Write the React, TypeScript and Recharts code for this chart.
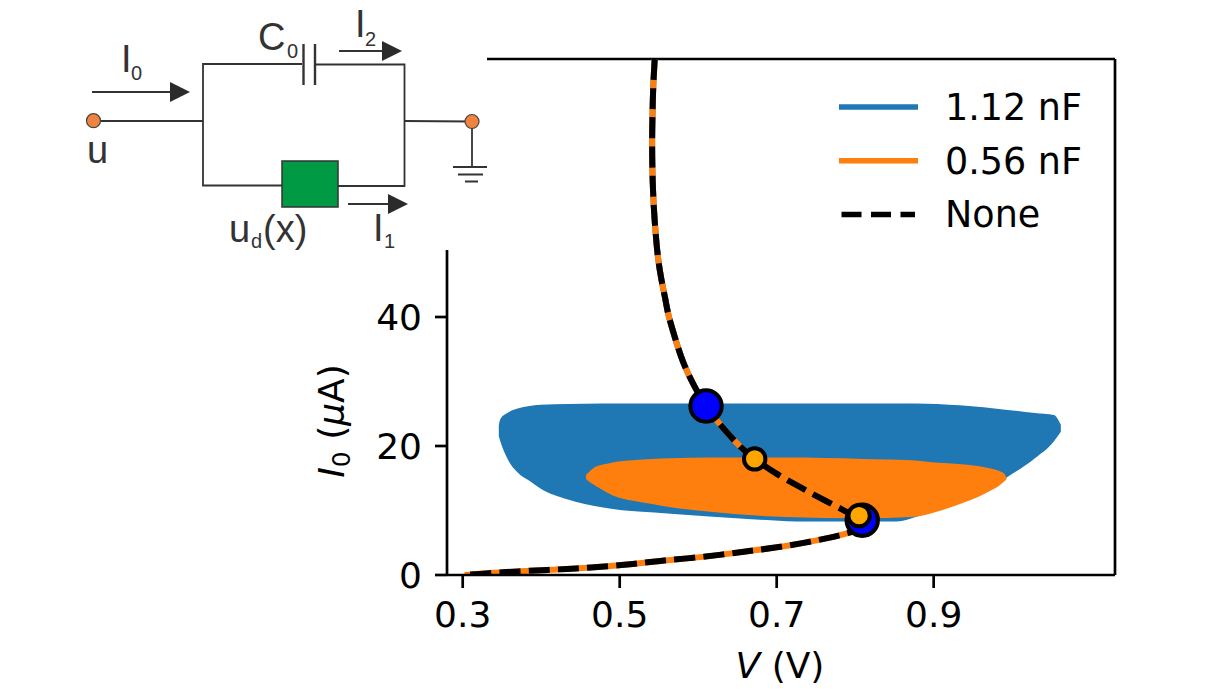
import {
  Area,
  ComposedChart,
  Legend,
  Line,
  ReferenceLine,
  Scatter,
  XAxis,
  YAxis,
} from "recharts"

const FONT = "DejaVu Sans"
const BLUE = "#1f77b4"
const ORANGE = "#ff7f0e"

// filled regions: x, lower edge, upper edge
const blueV = [0.346, 0.348, 0.358, 0.37, 0.385, 0.399, 0.434, 0.477, 0.565, 0.663, 0.725, 0.853, 0.877, 0.933, 0.994, 1.029, 1.053, 1.062]
const blueLow = [21.5, 20.7, 17.8, 15.9, 14.6, 13.4, 11.7, 10.5, 9.5, 8.7, 8.3, 8.3, 9.0, 11.3, 15.2, 18.1, 20.7, 22.2]
const blueHigh = [23.2, 24.2, 25.2, 25.8, 26.2, 26.4, 26.5, 26.6, 26.6, 26.6, 26.6, 26.6, 26.6, 26.3, 25.6, 25.1, 24.8, 23.3]

const orangeV = [0.457, 0.463, 0.468, 0.482, 0.492, 0.517, 0.541, 0.565, 0.615, 0.711, 0.81, 0.872, 0.906, 0.931, 0.965, 0.989, 0.993]
const orangeLow = [14.9, 14.3, 13.9, 12.9, 12.3, 11.5, 11.0, 10.5, 9.8, 9.0, 8.8, 9.0, 9.9, 10.9, 12.6, 14.4, 14.9]
const orangeHigh = [15.5, 16.2, 16.7, 17.2, 17.5, 17.8, 18.0, 18.1, 18.2, 18.2, 18.0, 17.8, 17.4, 17.2, 16.7, 15.8, 15.0]

// load line, walked from the top of the plot round the knee to the origin
const curveV = [0.5446, 0.5427, 0.542, 0.5413, 0.5413, 0.542, 0.5433, 0.5456, 0.5484, 0.5529, 0.5586, 0.5611, 0.5701, 0.5803, 0.5955, 0.6096, 0.6274, 0.6567, 0.672, 0.6975, 0.7242, 0.751, 0.7848, 0.8083, 0.8134, 0.8057, 0.7917, 0.765, 0.7357, 0.6975, 0.663, 0.6274, 0.5892, 0.551, 0.5166, 0.4809, 0.444, 0.4083, 0.37, 0.332, 0.3025]
const curveI = [80, 76, 72.6, 68.7, 64.8, 60.9, 57.1, 53.2, 49.3, 45.8, 42.6, 40.6, 36.9, 32.9, 29.1, 26.2, 23.3, 19.4, 18.0, 15.8, 14.0, 12.2, 10.1, 8.5, 7.9, 7.1, 6.5, 5.7, 5.0, 4.2, 3.7, 3.1, 2.6, 2.2, 1.7, 1.3, 1.0, 0.8, 0.55, 0.3, 0]

// which stretch of the curve each capacitance follows as a stable branch
const blueBranchEnd = 16
const orangeBranchEnd = 19
const orangeBranchRestart = 23

const blueDotsV = [0.61, 0.809]
const blueDotsI = [26.2, 8.5]
const goldDotsV = [0.672, 0.805]
const goldDotsI = [18.0, 9.2]

const xTicks = [0.3, 0.5, 0.7, 0.9]
const yTicks = [0, 20, 40]
const legendNames = ["1.12 nF", "0.56 nF", "None"]

const blueArea = blueV.map((v, i) => ({ v, range: [blueLow[i], blueHigh[i]] }))
const orangeArea = orangeV.map((v, i) => ({ v, range: [orangeLow[i], orangeHigh[i]] }))
const curve = curveV.map((v, i) => ({ v, i0: curveI[i] }))
const blueDots = blueDotsV.map((v, i) => ({ v, i0: blueDotsI[i] }))
const goldDots = goldDotsV.map((v, i) => ({ v, i0: goldDotsI[i] }))

function dot(r: number, fill: string) {
  return (p: any) => <circle cx={p.cx} cy={p.cy} r={r} fill={fill} stroke="#000" strokeWidth={4} />
}

function LegendBox() {
  const colors = [BLUE, ORANGE, "#000"]
  return (
    <svg width={270} height={160} style={{ display: "block" }}>
      {legendNames.map((name, i) => (
        <g key={name} transform={`translate(0, ${i * 53.7})`}>
          <line
            x1={i === 2 ? 11.5 : 9}
            x2={i === 2 ? 85 : 88}
            y1={22}
            y2={22}
            stroke={colors[i]}
            strokeWidth={5.5}
            strokeDasharray={i === 2 ? "20 9.5" : undefined}
          />
          <text x={115} y={35} fontFamily={FONT} fontSize={36.5} fill="#000">
            {name}
          </text>
        </g>
      ))}
    </svg>
  )
}

function Arrow({ x1, x2, y }: { x1: number; x2: number; y: number }) {
  return (
    <g>
      <line x1={x1} x2={x2 - 18} y1={y} y2={y} stroke="#333" strokeWidth={1.8} />
      <polygon points={`${x2 - 20},${y - 10} ${x2},${y} ${x2 - 20},${y + 10}`} fill="#2b2b2b" />
    </g>
  )
}

function Label({ x, y, main, sub, sx, sy }: any) {
  return (
    <g fontFamily="Liberation Sans" fill="#333">
      <text x={x} y={y} fontSize={38}>{main}</text>
      {sub && <text x={sx} y={sy} fontSize={20}>{sub}</text>}
    </g>
  )
}

function Circuit() {
  const wire = { stroke: "#333", strokeWidth: 1.8, fill: "none" }
  return (
    <svg width={1225} height={689} style={{ position: "absolute", left: 0, top: 0, pointerEvents: "none" }}>
      <rect x={40} y={0} width={447} height={250} fill="#fff" />
      <polyline points="302,64 203,64 203,185.5 282,185.5" {...wire} />
      <polyline points="316,64.5 404.5,64.5 404.5,186 338,186" {...wire} />
      <line x1={94} x2={203} y1={121} y2={121} {...wire} />
      <line x1={404.5} x2={472} y1={121} y2={121.5} {...wire} />
      <line x1={303.5} x2={303.5} y1={44} y2={85} stroke="#333" strokeWidth={2.4} />
      <line x1={315} x2={315} y1={44} y2={85} stroke="#333" strokeWidth={2.4} />
      <rect x={282} y={161} width={56} height={46} fill="#009a44" stroke="#333" strokeWidth={1.5} />
      <line x1={472} x2={472} y1={122} y2={167} {...wire} />
      <line x1={453} x2={487} y1={167} y2={167} stroke="#333" strokeWidth={2} />
      <line x1={458} x2={483} y1={174.5} y2={174.5} stroke="#333" strokeWidth={2} />
      <line x1={465} x2={478} y1={181.5} y2={181.5} stroke="#333" strokeWidth={2} />
      <circle cx={93.5} cy={120.7} r={7} fill="#f0833f" stroke="#444" strokeWidth={1.2} />
      <circle cx={472} cy={121.5} r={7} fill="#f0833f" stroke="#444" strokeWidth={1.2} />
      <Arrow x1={92} x2={190} y={92} />
      <Arrow x1={339} x2={402} y={51} />
      <Arrow x1={348} x2={408} y={204} />
      <Label x={121} y={72} main="I" sub="0" sx={131} sy={80} />
      <Label x={258} y={50} main="C" sub="0" sx={287} sy={58} />
      <Label x={355} y={37} main="I" sub="2" sx={365} sy={46} />
      <Label x={373} y={241} main="I" sub="1" sx={384} sy={248} />
      <Label x={87} y={163} main="u" />
      <Label x={229} y={242} main="u" sub="d" sx={251} sy={248} />
      <Label x={263} y={242} main="(x)" />
    </svg>
  )
}

function XLabel() {
  return (
    <text x={780} y={678} textAnchor="middle" fontFamily={FONT} fontSize={36} fill="#000">
      <tspan fontStyle="italic">V</tspan> (V)
    </text>
  )
}

function YLabel() {
  return (
    <text transform="translate(344, 421) rotate(-90)" textAnchor="middle" fontFamily={FONT} fontSize={36} fill="#000">
      <tspan fontStyle="italic">I</tspan>
      <tspan fontSize={25} dy={6}>0</tspan>
      <tspan dy={-6}> (</tspan>
      <tspan fontStyle="italic">μ</tspan>A)
    </text>
  )
}

export default function App() {
  const axisLine = { stroke: "#000", strokeWidth: 2.7 }
  const tick = { fill: "#000", fontSize: 36, fontFamily: FONT }
  return (
    <div style={{ position: "absolute", left: 0, top: 0, width: 1225, height: 689, background: "#fff" }}>
      <ComposedChart width={1225} height={689} margin={{ top: 59, right: 110, bottom: 54, left: 387 }}>
        <XAxis
          type="number"
          dataKey="v"
          domain={[0.28, 1.131]}
          allowDataOverflow
          ticks={xTicks}
          tickFormatter={(t: number) => t.toFixed(1)}
          interval={0}
          height={60}
          axisLine={axisLine}
          tickLine={axisLine}
          tickSize={13}
          tickMargin={13}
          tick={tick}
          label={<XLabel />}
        />
        <YAxis
          type="number"
          domain={[0, 80]}
          allowDataOverflow
          ticks={yTicks}
          interval={0}
          width={60}
          axisLine={axisLine}
          tickLine={axisLine}
          tickSize={12}
          tickMargin={13}
          tick={tick}
          label={<YLabel />}
        />
        <ReferenceLine y={80} stroke="#000" strokeWidth={2.7} />
        <ReferenceLine x={1.131} stroke="#000" strokeWidth={2.7} />
        <Area data={blueArea} dataKey="range" type="monotoneX" fill={BLUE} fillOpacity={1} stroke="none" isAnimationActive={false} dot={false} activeDot={false} />
        <Area data={orangeArea} dataKey="range" type="monotoneX" fill={ORANGE} fillOpacity={1} stroke="none" isAnimationActive={false} dot={false} activeDot={false} />
        <Line data={curve.slice(0, blueBranchEnd)} dataKey="i0" type="basis" stroke={BLUE} strokeWidth={6} dot={false} isAnimationActive={false} />
        <Line data={curve.slice(0, orangeBranchEnd)} dataKey="i0" type="basis" stroke={ORANGE} strokeWidth={6} dot={false} isAnimationActive={false} />
        <Line data={curve.slice(orangeBranchRestart)} dataKey="i0" type="basis" stroke={ORANGE} strokeWidth={6} dot={false} isAnimationActive={false} />
        <Line data={curve} dataKey="i0" type="basis" stroke="#000" strokeWidth={6} strokeDasharray="21 8.2" dot={false} isAnimationActive={false} />
        <Scatter data={blueDots} dataKey="i0" shape={dot(15.7, "#0000ff")} isAnimationActive={false} />
        <Scatter data={goldDots} dataKey="i0" shape={dot(10.7, "#ffa500")} isAnimationActive={false} />
        <Legend
          layout="horizontal"
          verticalAlign="middle"
          content={<LegendBox />}
          wrapperStyle={{ position: "absolute", left: 830, top: 85, width: 270, height: 160, bottom: "auto" }}
        />
      </ComposedChart>
      <Circuit />
    </div>
  )
}
